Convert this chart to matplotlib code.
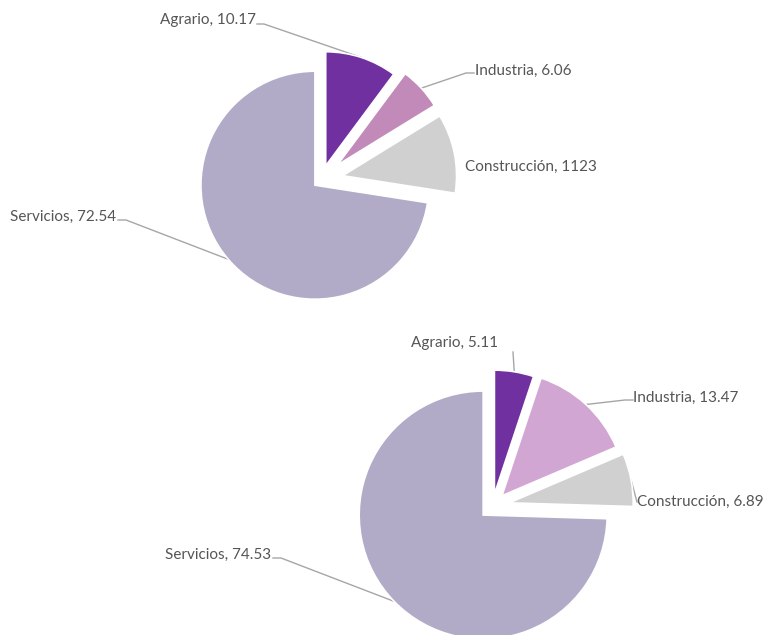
import numpy as np
import matplotlib.pyplot as plt

plt.rcParams['font.family'] = ['Lato', 'DejaVu Sans']

# -----------------------------
# Data
# -----------------------------
sectors = ["Agrario", "Industria", "Construcción", "Servicios"]

shares_top = [10.17, 6.06, 11.23, 72.54]
labels_top = ["10.17", "6.06", "1123", "72.54"]

shares_bottom = [5.11, 13.47, 6.89, 74.53]
labels_bottom = ["5.11", "13.47", "6.89", "74.53"]

colors_top = ["#7030A0", "#C28AB9", "#D0D0D0", "#B1ABC8"]
colors_bottom = ["#7030A0", "#D2A6D2", "#D0D0D0", "#B1ABC8"]

# -----------------------------
# Canvas in pixel units (y measured from top)
# -----------------------------
W, H = 778, 635
TEXT = "#555555"
LINE = "#A6A6A6"


def up(y):
    return H - y


fig = plt.figure(figsize=(W / 100, H / 100), dpi=100)
ax = fig.add_axes([0, 0, 1, 1])


def draw_pie(values, texts, colors, center, radius, expl, layout):
    wedges, _ = ax.pie(
        values,
        colors=colors,
        center=(center[0], up(center[1])),
        radius=radius,
        startangle=90,
        counterclock=False,
        explode=expl,
        wedgeprops=dict(edgecolor="white", linewidth=1.2),
        frame=True,
    )
    for w, name, txt, (tx, ty, ha, path) in zip(wedges, sectors, texts, layout):
        ax.text(tx, up(ty), f"{name}, {txt}", ha=ha, va="center",
                fontsize=11, color=TEXT)
        if path:
            mid = np.deg2rad((w.theta1 + w.theta2) / 2)
            cx, cy = w.center
            xs = [cx + w.r * np.cos(mid)] + [p[0] for p in path]
            ys = [cy + w.r * np.sin(mid)] + [up(p[1]) for p in path]
            ax.plot(xs, ys, color=LINE, lw=1, zorder=0)


# -----------------------------
# Top pie
# -----------------------------
draw_pie(
    shares_top, labels_top, colors_top,
    center=(321, 180), radius=114, expl=[15, 22, 22, 8],
    layout=[
        (256, 20, "right", [(264, 24), (257, 24)]),
        (475, 71, "left", [(466, 73), (474, 73)]),
        (465, 167, "left", None),
        (116, 217, "right", [(126, 220), (118, 220)]),
    ],
)

# -----------------------------
# Bottom pie
# -----------------------------
draw_pie(
    shares_bottom, labels_bottom, colors_bottom,
    center=(492.5, 506), radius=124, expl=[12, 14, 17, 13],
    layout=[
        (455, 343, "center", [(513, 352)]),
        (633, 398, "left", [(625, 400), (633, 400)]),
        (637, 502, "left", [(637, 502)]),
        (271, 555, "right", [(281, 558), (273, 558)]),
    ],
)

ax.set_xlim(0, W)
ax.set_ylim(0, H)
ax.set_aspect("equal")
ax.axis("off")

plt.savefig("out.png", dpi=100)
